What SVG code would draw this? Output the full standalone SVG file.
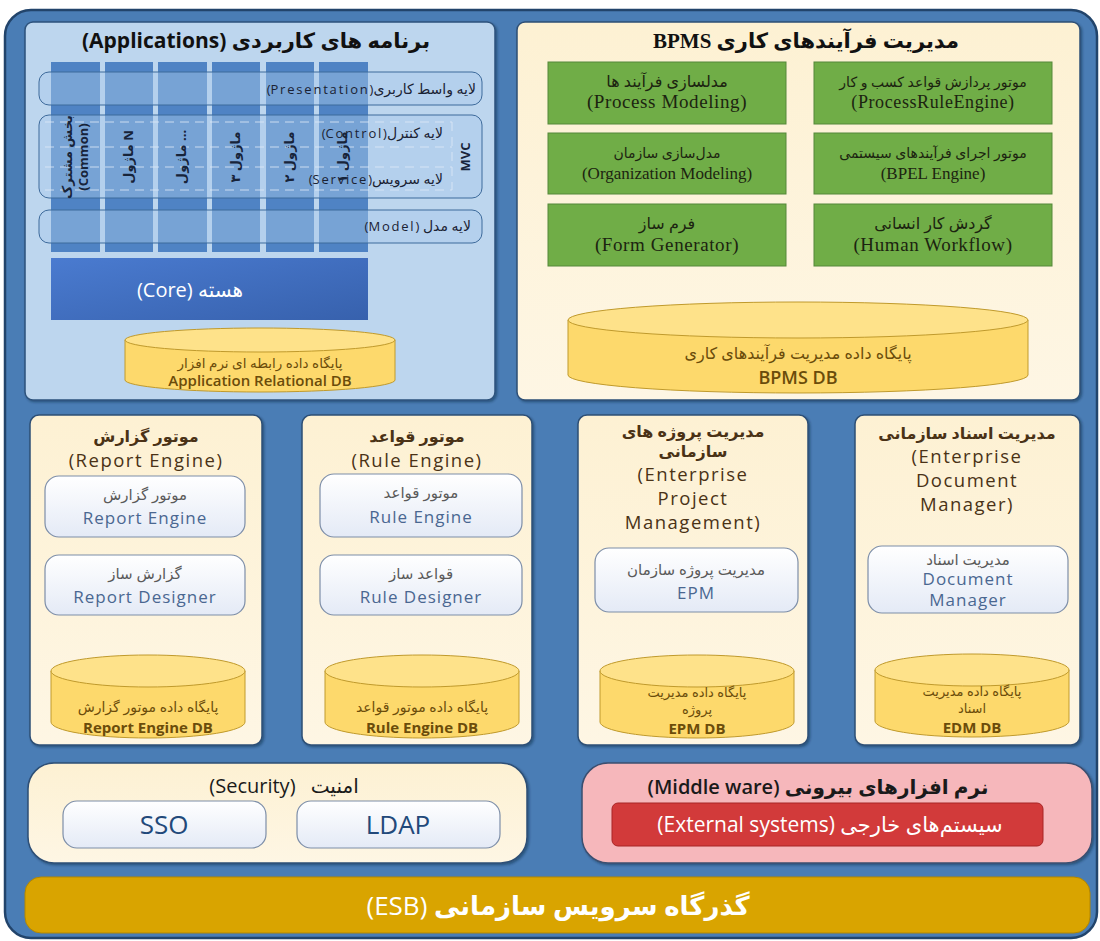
<svg xmlns="http://www.w3.org/2000/svg" width="1100" height="941" viewBox="0 0 1100 941">
  <defs>
    <style>
      .sans { font-family: "Open Sans", "DejaVu Sans", sans-serif; }
      .serif { font-family: "Liberation Serif", "DejaVu Sans", serif; }
      .rtl { direction: rtl; unicode-bidi: embed; }
      .panelCream { fill: url(#cream); stroke: #2d4f76; stroke-width: 1.5; filter: url(#shadow); }
      .green { fill: #70ad47; stroke: #55883a; stroke-width: 1; }
      .greenTxt { fill: #1c2410; text-anchor: middle; }
      .col { fill: #4f83c4; }
      .band { fill: #a9c9ea; fill-opacity: 0.45; stroke: #3d6a9b; stroke-width: 1; }
      .cyl { fill: #fdd96c; stroke: #c09a2c; stroke-width: 1; }
      .cylTop { fill: #fee28a; stroke: #c09a2c; stroke-width: 1; }
      .dbTxt { fill: #6b4c0a; text-anchor: middle; }
      .inner { fill: url(#innerGrad); stroke: #7d8ea8; stroke-width: 1.2; }
      .innerFa { fill: #5a5a5a; font-size: 15px; text-anchor: middle; }
      .innerEn { fill: #4a6791; font-size: 17px; letter-spacing: 1px; text-anchor: middle; }
      .ttlFa { fill: #4a3216; font-size: 16px; font-weight: bold; text-anchor: middle; }
      .ttlEn { fill: #4a3216; font-size: 18.5px; letter-spacing: 1.5px; text-anchor: middle; }
      .modTxt { fill: #17243a; font-size: 13px; font-weight: bold; text-anchor: middle; }
      .bandTxt { fill: #1a2233; font-size: 14px; }
      .bandEn { font-size: 13px; letter-spacing: 1.8px; }
    </style>
    <linearGradient id="cream" x1="0" y1="0" x2="0" y2="1">
      <stop offset="0" stop-color="#fdf1d3"/>
      <stop offset="1" stop-color="#fef6e4"/>
    </linearGradient>
    <linearGradient id="innerGrad" x1="0" y1="0" x2="0" y2="1">
      <stop offset="0" stop-color="#ffffff"/>
      <stop offset="1" stop-color="#e4eaf6"/>
    </linearGradient>
    <linearGradient id="coreGrad" x1="0" y1="0" x2="1" y2="1">
      <stop offset="0" stop-color="#4a7bd0"/>
      <stop offset="1" stop-color="#3761ad"/>
    </linearGradient>
    <filter id="shadow" x="-5%" y="-5%" width="110%" height="110%">
      <feDropShadow dx="1.5" dy="1.5" stdDeviation="1" flood-color="#102238" flood-opacity="0.45"/>
    </filter>
  </defs>

  <rect width="1100" height="941" fill="#ffffff"/>

  <!-- outer frame -->
  <g id="frame">
    <rect x="5" y="10" width="1092" height="928" rx="26" fill="#4a7db5" stroke="#22446b" stroke-width="2.5"/>
  </g>

  <!-- Applications -->
  <g id="applications">
    <rect x="25" y="22" width="470" height="378" rx="8" fill="#bdd6ee" stroke="#2d527c" stroke-width="1.5" filter="url(#shadow)"/>
    <text class="sans rtl" x="256" y="48" font-size="21" font-weight="bold" fill="#111" text-anchor="middle">برنامه های کاربردی (Applications)</text>
    <g id="modules">
      <rect class="col" x="51" y="62" width="49" height="190"/>
      <rect class="col" x="105" y="62" width="48" height="190"/>
      <rect class="col" x="158" y="62" width="49" height="190"/>
      <rect class="col" x="212" y="62" width="48" height="190"/>
      <rect class="col" x="266" y="62" width="48" height="190"/>
      <rect class="col" x="319" y="62" width="49" height="190"/>
    </g>
    <rect class="band" x="39" y="72" width="443" height="33" rx="10"/>
    <rect class="band" x="39" y="115" width="443" height="83" rx="10"/>
    <rect class="band" x="39" y="210" width="443" height="33" rx="10"/>
    <g stroke="#dfeaf7" stroke-width="1" stroke-dasharray="9 6" fill="none" opacity="0.8">
      <line x1="45" y1="122" x2="452" y2="122"/>
      <line x1="45" y1="147" x2="452" y2="147"/>
      <line x1="45" y1="167" x2="452" y2="167"/>
      <line x1="45" y1="190" x2="452" y2="190"/>
      <line x1="452" y1="122" x2="452" y2="190"/>
    </g>
    <text class="sans rtl bandTxt" x="476" y="94" text-anchor="start">لایه واسط کاربری<tspan class="bandEn">(Presentation)</tspan></text>
    <text class="sans rtl bandTxt" x="443" y="138" text-anchor="start">لایه کنترل<tspan class="bandEn">(Control)</tspan></text>
    <text class="sans rtl bandTxt" x="443" y="184" text-anchor="start">لایه سرویس<tspan class="bandEn">(Service)</tspan></text>
    <text class="sans rtl bandTxt" x="471" y="231" text-anchor="start">لایه مدل <tspan class="bandEn">(Model)</tspan></text>
    <text class="sans modTxt" transform="translate(466 157) rotate(-90)" y="4">MVC</text>
    <g class="sans modTxt">
      <text transform="translate(75 157) rotate(-90)" y="-3">بخش مشترک</text>
      <text transform="translate(75 157) rotate(-90)" y="13">(Common)</text>
      <text transform="translate(129 157) rotate(-90)" y="4">ماژول N</text>
      <text transform="translate(182 157) rotate(-90)" y="4">ماژول ...</text>
      <text transform="translate(236 157) rotate(-90)" y="4">ماژول ۳</text>
      <text transform="translate(290 157) rotate(-90)" y="4">ماژول ۲</text>
      <text transform="translate(343 157) rotate(-90)" y="4">ماژول ۱</text>
    </g>
    <g id="core">
      <rect x="51" y="258" width="317" height="62" fill="url(#coreGrad)"/>
      <text class="sans rtl" x="190" y="297" font-size="20" fill="#ffffff" text-anchor="middle">هسته (Core)</text>
    </g>
    <g id="app-db">
      <path class="cyl" d="M125 340 V380 A135 12 0 0 0 395 380 V340 Z"/>
      <ellipse class="cylTop" cx="260" cy="340" rx="135" ry="12"/>
      <text class="sans dbTxt" x="260" y="368" font-size="13.5">پایگاه داده رابطه ای نرم افزار</text>
      <text class="sans dbTxt" x="260" y="386" font-size="15" font-weight="600">Application Relational DB</text>
    </g>
  </g>

  <!-- BPMS -->
  <g id="bpms">
    <rect class="panelCream" x="517" y="22" width="563" height="378" rx="8"/>
    <text class="serif rtl" x="806" y="48" font-size="21" font-weight="bold" fill="#111" text-anchor="middle">مدیریت فرآیندهای کاری BPMS</text>
    <g id="process-modeling">
      <rect class="green" x="548" y="62" width="238" height="62"/>
      <text class="sans greenTxt" x="667" y="87" font-size="16">مدلسازی فرآیند ها</text>
      <text class="serif greenTxt" x="667" y="108" font-size="19" letter-spacing="0.6">(Process Modeling)</text>
    </g>
    <g id="process-rule-engine">
      <rect class="green" x="814" y="62" width="238" height="62"/>
      <text class="sans greenTxt" x="933" y="87" font-size="14">موتور پردازش قواعد کسب و کار</text>
      <text class="serif greenTxt" x="933" y="108" font-size="18" letter-spacing="0.6">(ProcessRuleEngine)</text>
    </g>
    <g id="organization-modeling">
      <rect class="green" x="548" y="133" width="238" height="61"/>
      <text class="sans greenTxt" x="667" y="158" font-size="14">مدل‌سازی سازمان</text>
      <text class="serif greenTxt" x="667" y="179" font-size="17">(Organization Modeling)</text>
    </g>
    <g id="bpel-engine">
      <rect class="green" x="814" y="133" width="238" height="61"/>
      <text class="sans greenTxt" x="933" y="158" font-size="14">موتور اجرای فرآیندهای سیستمی</text>
      <text class="serif greenTxt" x="933" y="179" font-size="17">(BPEL Engine)</text>
    </g>
    <g id="form-generator">
      <rect class="green" x="548" y="204" width="238" height="62"/>
      <text class="sans greenTxt" x="667" y="229" font-size="16">فرم ساز</text>
      <text class="serif greenTxt" x="667" y="251" font-size="19" letter-spacing="0.6">(Form Generator)</text>
    </g>
    <g id="human-workflow">
      <rect class="green" x="814" y="204" width="238" height="62"/>
      <text class="sans greenTxt" x="933" y="229" font-size="16">گردش کار انسانی</text>
      <text class="serif greenTxt" x="933" y="251" font-size="19" letter-spacing="0.6">(Human Workflow)</text>
    </g>
    <g id="bpms-db">
      <path class="cyl" d="M568 320 V375 A230 18 0 0 0 1028 375 V320 Z"/>
      <ellipse class="cylTop" cx="798" cy="320" rx="230" ry="18"/>
      <text class="sans dbTxt" x="798" y="359" font-size="16">پایگاه داده مدیریت فرآیندهای کاری</text>
      <text class="sans dbTxt" x="798" y="384" font-size="18" font-weight="600">BPMS DB</text>
    </g>
  </g>

  <!-- Report Engine -->
  <g id="report-engine">
    <rect class="panelCream" x="30" y="415" width="232" height="330" rx="9"/>
    <text class="sans ttlFa" x="146" y="442">موتور گزارش</text>
    <text class="sans ttlEn" x="146" y="467">(Report Engine)</text>
    <rect class="inner" x="45" y="476" width="200" height="61" rx="14"/>
    <text class="sans innerFa" x="145" y="500">موتور گزارش</text>
    <text class="sans innerEn" x="145" y="524">Report Engine</text>
    <rect class="inner" x="45" y="555" width="200" height="60" rx="14"/>
    <text class="sans innerFa" x="145" y="579">گزارش ساز</text>
    <text class="sans innerEn" x="145" y="603">Report Designer</text>
    <path class="cyl" d="M51 671 V722 A97 16 0 0 0 245 722 V671 Z"/>
    <ellipse class="cylTop" cx="148" cy="671" rx="97" ry="16"/>
    <text class="sans dbTxt" x="148" y="712" font-size="14">پایگاه داده موتور گزارش</text>
    <text class="sans dbTxt" x="148" y="733" font-size="15" font-weight="bold">Report Engine DB</text>
  </g>

  <!-- Rule Engine -->
  <g id="rule-engine">
    <rect class="panelCream" x="302" y="415" width="230" height="330" rx="9"/>
    <text class="sans ttlFa" x="417" y="442">موتور قواعد</text>
    <text class="sans ttlEn" x="417" y="467">(Rule Engine)</text>
    <rect class="inner" x="320" y="474" width="202" height="63" rx="14"/>
    <text class="sans innerFa" x="421" y="498">موتور قواعد</text>
    <text class="sans innerEn" x="421" y="523">Rule Engine</text>
    <rect class="inner" x="320" y="555" width="202" height="60" rx="14"/>
    <text class="sans innerFa" x="421" y="579">قواعد ساز</text>
    <text class="sans innerEn" x="421" y="603">Rule Designer</text>
    <path class="cyl" d="M325 671 V722 A97 16 0 0 0 519 722 V671 Z"/>
    <ellipse class="cylTop" cx="422" cy="671" rx="97" ry="16"/>
    <text class="sans dbTxt" x="422" y="712" font-size="14">پایگاه داده موتور قواعد</text>
    <text class="sans dbTxt" x="422" y="733" font-size="15" font-weight="bold">Rule Engine DB</text>
  </g>

  <!-- Enterprise Project Management -->
  <g id="epm">
    <rect class="panelCream" x="578" y="415" width="230" height="330" rx="9"/>
    <text class="sans ttlFa" x="693" y="437">مدیریت پروژه های</text>
    <text class="sans ttlFa" x="693" y="457">سازمانی</text>
    <text class="sans ttlEn" x="693" y="481">(Enterprise</text>
    <text class="sans ttlEn" x="693" y="505">Project</text>
    <text class="sans ttlEn" x="693" y="529">Management)</text>
    <rect class="inner" x="595" y="548" width="203" height="64" rx="14"/>
    <text class="sans innerFa" x="696" y="575">مدیریت پروژه سازمان</text>
    <text class="sans innerEn" x="696" y="599">EPM</text>
    <path class="cyl" d="M600 671 V722 A97 16 0 0 0 794 722 V671 Z"/>
    <ellipse class="cylTop" cx="697" cy="671" rx="97" ry="16"/>
    <text class="sans dbTxt" x="697" y="697" font-size="13">پایگاه داده مدیریت</text>
    <text class="sans dbTxt" x="697" y="714" font-size="13">پروژه</text>
    <text class="sans dbTxt" x="697" y="734" font-size="15" font-weight="bold">EPM DB</text>
  </g>

  <!-- Enterprise Document Manager -->
  <g id="edm">
    <rect class="panelCream" x="855" y="415" width="225" height="330" rx="9"/>
    <text class="sans ttlFa" x="967" y="439">مدیریت اسناد  سازمانی</text>
    <text class="sans ttlEn" x="967" y="463">(Enterprise</text>
    <text class="sans ttlEn" x="967" y="487">Document</text>
    <text class="sans ttlEn" x="967" y="511">Manager)</text>
    <rect class="inner" x="868" y="546" width="200" height="67" rx="14"/>
    <text class="sans innerFa" x="968" y="565" font-size="14">مدیریت اسناد</text>
    <text class="sans innerEn" x="968" y="585" font-size="16">Document</text>
    <text class="sans innerEn" x="968" y="606" font-size="16">Manager</text>
    <path class="cyl" d="M875 670 V721 A97 16 0 0 0 1069 721 V670 Z"/>
    <ellipse class="cylTop" cx="972" cy="670" rx="97" ry="16"/>
    <text class="sans dbTxt" x="972" y="696" font-size="13">پایگاه داده مدیریت</text>
    <text class="sans dbTxt" x="972" y="713" font-size="13">اسناد</text>
    <text class="sans dbTxt" x="972" y="733" font-size="15" font-weight="bold">EDM DB</text>
  </g>

  <!-- Security -->
  <g id="security">
    <rect class="panelCream" x="28" y="763" width="499" height="100" rx="26"/>
    <text class="sans rtl" x="284" y="793" font-size="20" fill="#1a1a1a" text-anchor="middle" word-spacing="10">امنیت (Security)</text>
    <g id="sso">
      <rect class="inner" x="63" y="801" width="203" height="47" rx="14"/>
      <text class="sans" x="164" y="834" font-size="26" fill="#22497a" text-anchor="middle">SSO</text>
    </g>
    <g id="ldap">
      <rect class="inner" x="297" y="801" width="203" height="47" rx="14"/>
      <text class="sans" x="398" y="834" font-size="26" fill="#22497a" text-anchor="middle">LDAP</text>
    </g>
  </g>

  <!-- Middleware -->
  <g id="middleware">
    <rect x="582" y="763" width="510" height="100" rx="26" fill="#f6b7bb" stroke="#3b4f70" stroke-width="1.5" filter="url(#shadow)"/>
    <text class="sans rtl" x="818" y="794" font-size="20" font-weight="600" fill="#1a1a1a" text-anchor="middle">نرم افزارهای بیرونی (Middle ware)</text>
    <g id="external-systems">
      <rect x="612" y="803" width="431" height="43" rx="6" fill="#d23a3a" stroke="#a82424" stroke-width="1"/>
      <text class="sans rtl" x="830" y="832" font-size="21" fill="#ffffff" text-anchor="middle">سیستم‌های خارجی (External systems)</text>
    </g>
  </g>

  <!-- Enterprise Service Bus -->
  <g id="esb">
    <rect x="25" y="877" width="1065" height="56" rx="16" fill="#d9a400" stroke="#b38700" stroke-width="1"/>
    <text class="sans rtl" x="558" y="915" font-size="26" fill="#ffffff" text-anchor="middle"><tspan font-weight="bold">گذرگاه سرویس سازمانی</tspan> (ESB)</text>
  </g>
</svg>
